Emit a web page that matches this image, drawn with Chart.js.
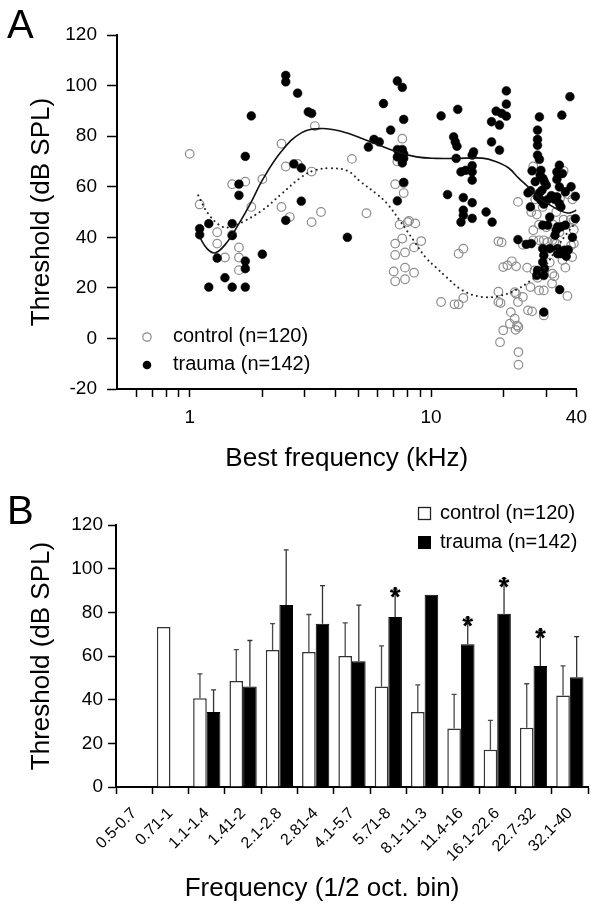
<!DOCTYPE html>
<html>
<head>
<meta charset="utf-8">
<script src="https://cdn.jsdelivr.net/npm/chart.js@4.4.1/dist/chart.umd.min.js"></script>
<style>
  html, body { margin: 0; padding: 0; background: #fff; }
  body { width: 596px; height: 907px; position: relative; overflow: hidden; }
  #wrapA { position: absolute; left: 0; top: 0; width: 596px; height: 480px; }
  #wrapB { position: absolute; left: 0; top: 480px; width: 596px; height: 427px; }
</style>
</head>
<body>
<div id="wrapA"><canvas id="chartA" width="596" height="480"></canvas></div>
<div id="wrapB"><canvas id="chartB" width="596" height="427"></canvas></div>
<script>
// ---------- Panel A data ----------
const ctrlX = [1.0,1.1,1.3,1.3,1.5,1.5,1.7,2.0,2.4,2.5,2.8,3.3,3.2,1.8,2.4,2.6,3.2,3.5,1.6,1.4,1.6,1.6,
  4.7,7.6,7.25,7.1,7.7,7.7,5.4,7.4,8.0,8.1,8.6,7.1,7.6,7.8,7.1,8.5,9.1,7.0,7.8,8.5,7.1,7.8,
  11,12.5,13,13.6,13,13.6,
  19,19.6,19.9,20.7,21.6,22.5,22.9,26.5,35.4,34.2,26,27.4,26.5,35.4,37.9,39,26.5,28,29.3,30.4,31.8,32.4,33,38,39,38.4,
  26.8,27.6,31.8,32.4,31.7,25.8,28,29.3,19,22.2,22.5,24,19,19.4,22.9,25.2,26.2,36.7,21.4,22.2,21.2,22.7,23,19.9,22.4,19.3,23,23,29.3,
  28,31,36,33,37,39,24,30,34,25,29,35,38.5,32,27];
const ctrlY = [73,53,42,37.5,41,61,62,63,77,68,69,84,66,52,52,48,46,50,36,32,32,27,
  71,79,70,61,61.5,57.5,49.5,45,46,46.5,45.5,37.5,39.5,34,33,36,38.5,26.5,28,26,22.6,23.4,
  14.4,13.5,13.5,16,33.5,35.5,
  38.4,38,28.2,28.9,30.5,28.5,54,68,66.3,55.3,50,49,42.8,47,47,46.7,38.8,38.8,38.8,38.1,38.8,38.1,37.5,36.8,37.5,32.2,
  26.9,24,25.6,24.6,21.7,20.3,19,19,18.5,18.3,17.7,16.4,14.4,14,14.4,11.1,10.7,16.8,10.4,7.8,5.8,5.1,4.5,3.2,3.4,-1.5,-5.4,-10.4,9.1,
  45,30,28,50,57,43,37,44,42,28,52,31,55,45,55];

const traumaX = [2.5,2.5,2.8,3.1,3.2,1.8,1.7,1.6,1.6,2.7,2.9,2.9,2.5,1.2,1.1,1.1,1.5,1.5,1.3,2.0,1.7,1.7,1.4,1.2,1.5,1.7,
  4.5,5.5,5.8,6.1,6.35,6.8,7.25,7.6,7.7,7.25,7.6,7.4,7.7,7.25,7.7,7.6,7.7,7.25,
  11,12.9,12.4,12.6,12.8,12.7,15,14.8,14.8,14.8,13.3,13.9,14.8,11.7,13.6,14.8,16.9,13.6,13.6,14.8,13.3,17.9,
  20.5,20.5,18.6,19.6,20.5,17.8,19.2,17.8,19.2,
  28.1,34.8,37.6,27.6,27.6,27.6,27.6,28.1,
  26.2,28.5,28.3,29.1,29.5,30,28.8,28.1,
  33.2,33.6,34,34,39.6,25.2,25.8,
  27.6,28.5,30.4,29.3,33.2,34,34.5,25.8,39.6,
  31.5,32.5,33.2,35,
  29,30.4,33.4,34.5,36,33,32.6,
  22.9,24.8,26,
  29,31,29.3,33.4,34.5,36.3,35.7,33.4,
  29,29.5,27.6,29.3,27.4,
  34.1,29.3,
  36,38,31,27,37,38.5];
const traumaY = [104,101.5,97,89.6,89,88,72,61,56.6,69,67.4,54.3,46.7,45.4,43.4,41,45.4,40.7,31.8,33.3,30.6,27.6,24,20.3,20.3,20.3,
  40,75.7,78.7,77.7,92.9,82.4,101.8,99.3,86.6,74.7,74.7,73,73,71.8,71.2,69.4,61.7,54.4,
  88,90.6,79.7,77.7,76,71.2,73.8,72.5,68.3,65.9,65.9,66.5,62.6,56.9,55.7,53.7,50,50.7,48.7,47.5,46,46,
  97.9,92.7,89.9,89,87.9,85.7,84.4,77.7,74.5,
  87.6,88.3,95.6,82.4,78.7,76.4,72.5,70.8,
  66.3,66.5,64.6,63.2,61.9,60.6,58.6,57.6,
  65.9,64.6,68.5,59.9,56.2,57.6,58.4,
  56,54.7,54.9,53.1,56,53.3,52,52,47.4,
  56.5,55,62.9,65.2,
  44.8,44.8,44.1,44.1,44.8,42.8,40.8,
  39.1,37.2,37.5,
  35.5,35.5,32.9,35.5,33.5,32.5,34.9,33.5,
  30.2,27.6,26.9,24.9,24.9,
  19.3,10.4,
  58,60,48,62,35,40];

// fitted curves
const traumaFitX = [1.10,1.18,1.27,1.4,1.6,1.8,2.0,2.4,2.9,3.5,4.2,5.4,7.2,8.7,10.5,12.6,16.3,18.5,20.9,23,25.2,28,30.4,33.5,36.7,39,40];
const traumaFitY = [40,35.5,33.8,37,45.4,54,62.6,74,81.3,83,82,78.4,73.8,71.8,71.2,71.2,71.3,70,67.5,63.5,60,55.5,53.3,51,49.6,50.2,50.8];
const ctrlFitX = [1.085,1.2,1.37,1.5,1.66,2.0,2.41,2.91,3.3,3.8,4.5,5.1,5.97,6.55,7.5,8.5,9.5,10.5,11.5,13.5,16.3,19.6,22.9,25.5,27.6,30,33.4,36.5,39,40];
const ctrlFitY = [56.6,49,44.1,44.3,46.1,50.7,57.3,63.9,66.5,67.3,66.3,62,57,53.5,46,38.5,32,28,24.5,19,16.4,17,19.6,22.5,25,29,36.2,41.5,44.8,45.5];

const freqTicks = [0.6,0.7,0.8,0.9,1,2,3,4,5,6,7,8,9,10,20,30,40];
const freqTickLabels = ['1','10','40'];

// ---------- Panel B data ----------
const binLabels = ['0.5-0.7','0.71-1','1.1-1.4','1.41-2','2.1-2.8','2.81-4','4.1-5.7','5.71-8','8.1-11.3','11.4-16','16.1-22.6','22.7-32','32.1-40'];
const ctrlMean   = [null,73.3,40.7,48.5,62.7,61.8,60.0,46.0,34.3,26.8,17.1,27.1,41.9];
const ctrlSD     = [null,null,11.1,14.4,12.1,17.2,15.2,18.6,12.5,15.6,13.4,20.2,13.6];
const traumaMean = [null,null,34.3,46.0,83.4,74.8,57.6,77.9,88.1,65.4,79.4,55.4,50.3];
const traumaSD   = [null,null,10.2,21.1,25.2,17.4,25.7,12.7,null,12.0,16.0,16.4,18.6];
const significant = [false,false,false,false,false,false,false,true,false,true,true,true,false];

const FONT = "'Liberation Sans', Arial, Helvetica, sans-serif";

// ---------- Chart A ----------
const ctrlPts = ctrlX.map((x, i) => ({x, y: ctrlY[i]}));
const traumaPts = traumaX.map((x, i) => ({x, y: traumaY[i]}));
const ctrlFit = ctrlFitX.map((x, i) => ({x, y: ctrlFitY[i]}));
const traumaFit = traumaFitX.map((x, i) => ({x, y: traumaFitY[i]}));

const panelLabelA = {
  id: 'panelLabelA',
  afterDraw(chart) {
    const ctx = chart.ctx;
    const ys = chart.scales.y;
    ctx.save();
    // minor y ticks (shorter)
    ctx.strokeStyle = '#000'; ctx.lineWidth = 1.5;
    ys.ticks.forEach(t => {
      if (t.value % 20 !== 0) {
        const py = Math.round(ys.getPixelForValue(t.value)) + 0.5;
        ctx.beginPath(); ctx.moveTo(ys.right - 6, py); ctx.lineTo(ys.right, py); ctx.stroke();
      }
    });
    ctx.fillStyle = '#000';
    ctx.font = '40px ' + FONT;
    ctx.textBaseline = 'alphabetic';
    ctx.fillText('A', 7, 38);
    // legend
    ctx.font = '20px ' + FONT;
    ctx.textBaseline = 'middle';
    ctx.beginPath();
    ctx.arc(147, 337, 4.2, 0, Math.PI * 2);
    ctx.strokeStyle = '#8a8a8a'; ctx.lineWidth = 1.2; ctx.stroke();
    ctx.fillText('control (n=120)', 173, 336);
    ctx.beginPath();
    ctx.arc(147, 365, 4.3, 0, Math.PI * 2);
    ctx.fillStyle = '#000'; ctx.fill();
    ctx.fillText('trauma (n=142)', 173, 364);
    ctx.restore();
  }
};

new Chart(document.getElementById('chartA'), {
  type: 'scatter',
  data: {
    datasets: [
      { type: 'line', data: traumaFit, borderColor: '#111', borderWidth: 1.6, pointRadius: 0, tension: 0.4, fill: false, order: 0 },
      { type: 'line', data: ctrlFit, borderColor: '#222', borderWidth: 2, borderDash: [0.1, 5], borderCapStyle: 'round', pointRadius: 0, tension: 0.4, fill: false, order: 0 },
      { data: traumaPts, pointRadius: 4.4, pointBackgroundColor: '#000', pointBorderColor: '#000', pointBorderWidth: 0.5, clip: false, order: 1 },
      { data: ctrlPts, pointRadius: 4.3, pointBackgroundColor: 'rgba(255,255,255,0)', pointBorderColor: '#8d8d8d', pointBorderWidth: 1.2, clip: false, order: 2 }
    ]
  },
  options: {
    responsive: false,
    animation: false,
    events: [],
    layout: { padding: { top: 35, right: 14, left: 0, bottom: 0 } },
    plugins: { legend: { display: false }, tooltip: { enabled: false } },
    scales: {
      x: {
        type: 'logarithmic', min: 0.5, max: 40,
        afterBuildTicks(scale) { scale.ticks = freqTicks.map(v => ({ value: v })); },
        afterFit(scale) { scale.height = 91; },
        ticks: {
          autoSkip: false, maxRotation: 0, minRotation: 0, padding: 9, color: '#000',
          font: { family: FONT, size: 19 },
          callback(v) { const s = String(v); return freqTickLabels.includes(s) ? s : ''; }
        },
        grid: { drawOnChartArea: false, drawTicks: true, tickLength: 8, tickColor: '#000', tickWidth: 1.5 },
        border: { display: true, color: '#000', width: 2 },
        title: { display: true, text: 'Best frequency (kHz)', color: '#000', font: { family: FONT, size: 26 }, padding: { top: 0, bottom: 6 } }
      },
      y: {
        min: -20, max: 120,
        afterFit(scale) { scale.width = 117; },
        ticks: {
          stepSize: 10, padding: 10, color: '#000',
          font: { family: FONT, size: 19 },
          callback(v) { return v % 20 === 0 ? String(v) : ''; }
        },
        grid: {
          drawOnChartArea: false, drawTicks: true, tickLength: 10, tickWidth: 1.5,
          tickColor: (c) => (c.tick && c.tick.value % 20 === 0) ? '#000' : 'rgba(0,0,0,0)'
        },
        border: { display: true, color: '#000', width: 2 },
        title: { display: true, text: 'Threshold (dB SPL)', color: '#000', font: { family: FONT, size: 26 }, padding: { top: 26, bottom: 0 } }
      }
    }
  },
  plugins: [panelLabelA]
});

// ---------- Chart B ----------
const errorBars = {
  id: 'errorBars',
  afterDatasetsDraw(chart) {
    const ctx = chart.ctx;
    const ys = chart.scales.y;
    const sets = [[0, ctrlMean, ctrlSD, '#4a4a4a'], [1, traumaMean, traumaSD, '#333']];
    ctx.save();
    sets.forEach(([di, means, sds, col]) => {
      const meta = chart.getDatasetMeta(di);
      meta.data.forEach((bar, i) => {
        if (means[i] == null || sds[i] == null) return;
        const yTop = ys.getPixelForValue(means[i] + sds[i]);
        const yBar = ys.getPixelForValue(means[i]);
        ctx.strokeStyle = col; ctx.lineWidth = 1.3;
        ctx.beginPath();
        ctx.moveTo(bar.x, yBar); ctx.lineTo(bar.x, yTop);
        ctx.moveTo(bar.x - 2.5, yTop); ctx.lineTo(bar.x + 2.5, yTop);
        ctx.stroke();
        if (di === 1 && significant[i]) {
          ctx.fillStyle = '#000';
          ctx.font = 'bold 28px ' + FONT;
          ctx.textAlign = 'center';
          ctx.textBaseline = 'alphabetic';
          ctx.fillText('*', bar.x, yTop + 17);
        }
      });
    });
    ctx.restore();
  },
  afterDraw(chart) {
    const ctx = chart.ctx;
    const ca = chart.chartArea;
    ctx.save();
    ctx.fillStyle = '#000';
    ctx.font = '40px ' + FONT;
    ctx.textBaseline = 'alphabetic';
    ctx.fillText('B', 7, 44);
    // legend
    ctx.font = '20px ' + FONT;
    ctx.textBaseline = 'middle';
    ctx.strokeStyle = '#222'; ctx.lineWidth = 1.3;
    ctx.strokeRect(418.5, 27.5, 12, 12);
    ctx.fillText('control (n=120)', 440, 33);
    ctx.fillRect(418, 56, 13, 13);
    ctx.fillText('trauma (n=142)', 440, 62);
    // x axis title
    ctx.font = '26px ' + FONT;
    ctx.textAlign = 'center';
    ctx.textBaseline = 'alphabetic';
    ctx.fillText('Frequency (1/2 oct. bin)', (ca.left + ca.right) / 2 - 30, 416);
    ctx.restore();
  }
};

new Chart(document.getElementById('chartB'), {
  type: 'bar',
  data: {
    labels: binLabels,
    datasets: [
      { label: 'control (n=120)', data: ctrlMean, backgroundColor: '#fff', borderColor: '#333', borderWidth: 1.5, categoryPercentage: 0.75, barPercentage: 1.0 },
      { label: 'trauma (n=142)', data: traumaMean, backgroundColor: '#000', borderColor: '#000', borderWidth: 1, categoryPercentage: 0.75, barPercentage: 1.0 }
    ]
  },
  options: {
    responsive: false,
    animation: false,
    events: [],
    layout: { padding: { top: 45, right: 8, left: 0, bottom: 0 } },
    plugins: { legend: { display: false }, tooltip: { enabled: false } },
    scales: {
      x: {
        afterFit(scale) { scale.height = 120; },
        ticks: {
          autoSkip: false, maxRotation: 45, minRotation: 45, padding: 10, color: '#000',
          font: { family: FONT, size: 16 }
        },
        grid: { drawOnChartArea: false, drawTicks: true, tickLength: 7, tickColor: '#000', tickWidth: 1.5, offset: true },
        border: { display: true, color: '#000', width: 2 }
      },
      y: {
        min: 0, max: 120,
        afterFit(scale) { scale.width = 116; },
        ticks: { stepSize: 20, padding: 5, color: '#000', font: { family: FONT, size: 19 } },
        grid: { drawOnChartArea: false, drawTicks: true, tickLength: 8, tickColor: '#000', tickWidth: 1.5 },
        border: { display: true, color: '#000', width: 2 },
        title: { display: true, text: 'Threshold (dB SPL)', color: '#000', font: { family: FONT, size: 26 }, padding: { top: 26, bottom: 0 } }
      }
    }
  },
  plugins: [errorBars]
});
</script>
</body>
</html>
